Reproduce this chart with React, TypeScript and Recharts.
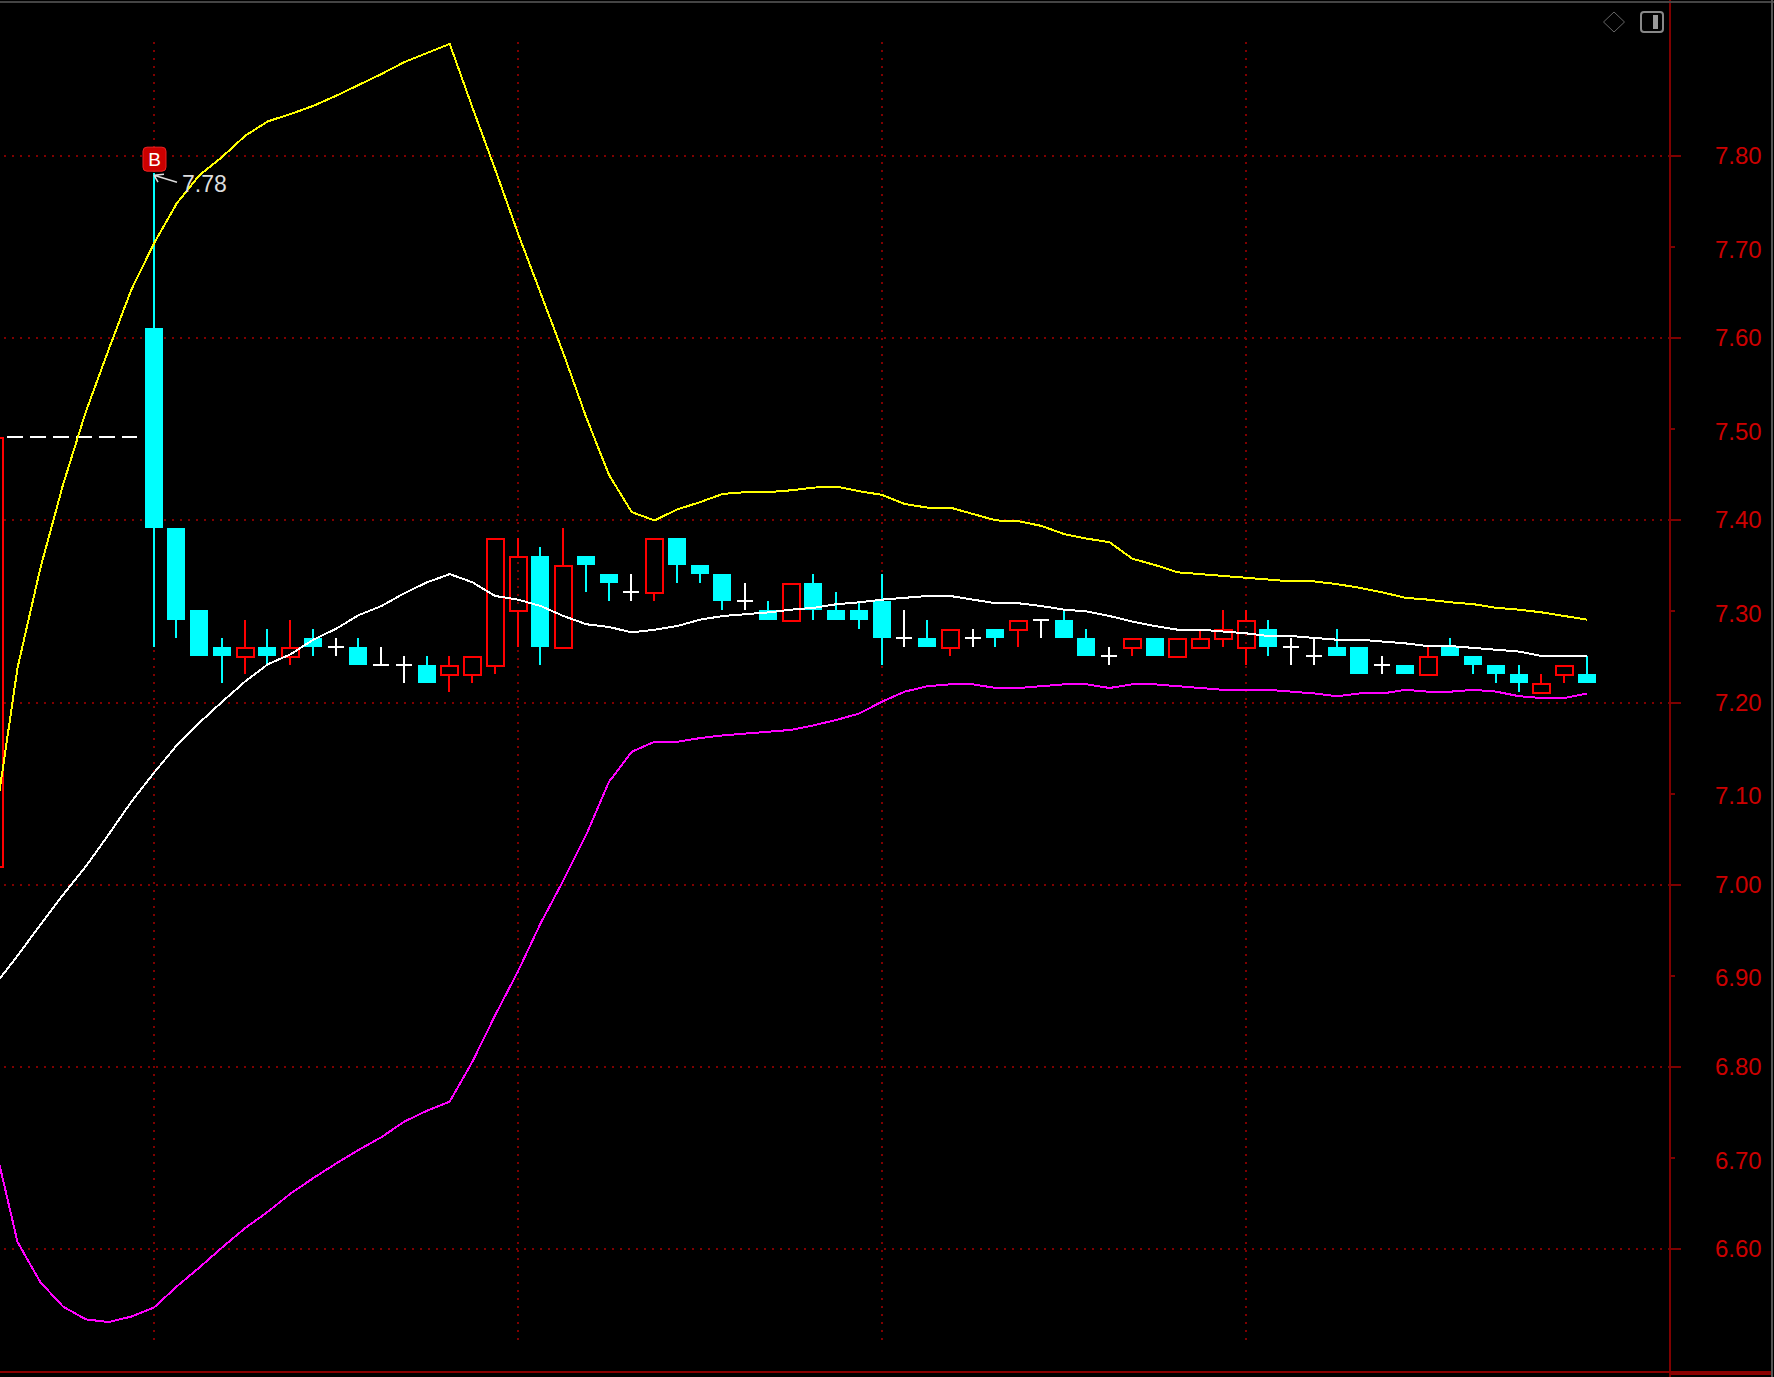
import React from "react";
import { Bar, ComposedChart, Line, ReferenceDot, ReferenceLine, XAxis, YAxis } from "recharts";

// candle index, 0 is the big bar under the B marker
const indexes = [-7, -6, -5, -4, -3, -2, -1, 0, 1, 2, 3, 4, 5, 6, 7, 8, 9, 10, 11, 12, 13, 14, 15, 16, 17, 18, 19, 20, 21, 22, 23, 24, 25, 26, 27, 28, 29, 30, 31, 32, 33, 34, 35, 36, 37, 38, 39, 40, 41, 42, 43, 44, 45, 46, 47, 48, 49, 50, 51, 52, 53, 54, 55, 56, 57, 58, 59, 60, 61, 62, 63];

// [index, open, high, low, close]
const candles = [
  [-7, 7.02, 7.49, 7.02, 7.49],
  [0, 7.61, 7.78, 7.26, 7.39],
  [1, 7.39, 7.39, 7.27, 7.29],
  [2, 7.3, 7.3, 7.25, 7.25],
  [3, 7.26, 7.27, 7.22, 7.25],
  [4, 7.25, 7.29, 7.23, 7.26],
  [5, 7.26, 7.28, 7.24, 7.25],
  [6, 7.25, 7.29, 7.24, 7.26],
  [7, 7.27, 7.28, 7.25, 7.26],
  [8, 7.26, 7.27, 7.25, 7.26],
  [9, 7.26, 7.27, 7.24, 7.24],
  [10, 7.24, 7.26, 7.24, 7.24],
  [11, 7.24, 7.25, 7.22, 7.24],
  [12, 7.24, 7.25, 7.22, 7.22],
  [13, 7.23, 7.25, 7.21, 7.24],
  [14, 7.23, 7.25, 7.22, 7.25],
  [15, 7.24, 7.38, 7.23, 7.38],
  [16, 7.3, 7.38, 7.26, 7.36],
  [17, 7.36, 7.37, 7.24, 7.26],
  [18, 7.26, 7.39, 7.26, 7.35],
  [19, 7.36, 7.36, 7.32, 7.35],
  [20, 7.34, 7.34, 7.31, 7.33],
  [21, 7.32, 7.34, 7.31, 7.32],
  [22, 7.32, 7.38, 7.31, 7.38],
  [23, 7.38, 7.38, 7.33, 7.35],
  [24, 7.35, 7.35, 7.33, 7.34],
  [25, 7.34, 7.34, 7.3, 7.31],
  [26, 7.31, 7.33, 7.3, 7.31],
  [27, 7.3, 7.31, 7.29, 7.29],
  [28, 7.29, 7.33, 7.29, 7.33],
  [29, 7.33, 7.34, 7.29, 7.3],
  [30, 7.3, 7.32, 7.29, 7.29],
  [31, 7.3, 7.31, 7.28, 7.29],
  [32, 7.31, 7.34, 7.24, 7.27],
  [33, 7.27, 7.3, 7.26, 7.27],
  [34, 7.27, 7.29, 7.26, 7.26],
  [35, 7.26, 7.28, 7.25, 7.28],
  [36, 7.27, 7.28, 7.26, 7.27],
  [37, 7.28, 7.28, 7.26, 7.27],
  [38, 7.28, 7.29, 7.26, 7.29],
  [39, 7.29, 7.29, 7.27, 7.29],
  [40, 7.29, 7.3, 7.27, 7.27],
  [41, 7.27, 7.28, 7.25, 7.25],
  [42, 7.25, 7.26, 7.24, 7.25],
  [43, 7.26, 7.27, 7.25, 7.27],
  [44, 7.27, 7.27, 7.25, 7.25],
  [45, 7.25, 7.27, 7.25, 7.27],
  [46, 7.26, 7.28, 7.26, 7.27],
  [47, 7.27, 7.3, 7.26, 7.28],
  [48, 7.26, 7.3, 7.24, 7.29],
  [49, 7.28, 7.29, 7.25, 7.26],
  [50, 7.26, 7.27, 7.24, 7.26],
  [51, 7.25, 7.27, 7.24, 7.25],
  [52, 7.26, 7.28, 7.25, 7.25],
  [53, 7.26, 7.26, 7.23, 7.23],
  [54, 7.24, 7.25, 7.23, 7.24],
  [55, 7.24, 7.24, 7.23, 7.23],
  [56, 7.23, 7.26, 7.23, 7.25],
  [57, 7.26, 7.27, 7.25, 7.25],
  [58, 7.25, 7.25, 7.23, 7.24],
  [59, 7.24, 7.24, 7.22, 7.23],
  [60, 7.23, 7.24, 7.21, 7.22],
  [61, 7.21, 7.23, 7.21, 7.22],
  [62, 7.23, 7.24, 7.22, 7.24],
  [63, 7.23, 7.25, 7.22, 7.22],
];

const upperBand = [7.067, 7.238, 7.347, 7.439, 7.519, 7.587, 7.653, 7.704, 7.748, 7.779, 7.799, 7.822, 7.838, 7.846, 7.855, 7.866, 7.878, 7.89, 7.903, 7.913, 7.923, 7.853, 7.785, 7.715, 7.649, 7.583, 7.513, 7.45, 7.409, 7.4, 7.412, 7.42, 7.429, 7.431, 7.431, 7.433, 7.436, 7.437, 7.432, 7.428, 7.418, 7.414, 7.414, 7.407, 7.4, 7.399, 7.394, 7.385, 7.38, 7.376, 7.358, 7.351, 7.343, 7.341, 7.339, 7.337, 7.335, 7.333, 7.333, 7.33, 7.326, 7.321, 7.315, 7.313, 7.31, 7.308, 7.304, 7.302, 7.299, 7.295, 7.291];
const middleBand = [6.89, 6.922, 6.956, 6.989, 7.02, 7.055, 7.091, 7.123, 7.153, 7.178, 7.201, 7.223, 7.242, 7.253, 7.269, 7.281, 7.296, 7.306, 7.32, 7.332, 7.341, 7.332, 7.317, 7.313, 7.306, 7.295, 7.286, 7.283, 7.277, 7.28, 7.284, 7.291, 7.295, 7.297, 7.299, 7.302, 7.304, 7.308, 7.31, 7.313, 7.315, 7.317, 7.317, 7.313, 7.309, 7.309, 7.306, 7.302, 7.3, 7.295, 7.289, 7.284, 7.28, 7.28, 7.278, 7.276, 7.273, 7.273, 7.271, 7.269, 7.269, 7.267, 7.265, 7.262, 7.262, 7.26, 7.258, 7.256, 7.251, 7.251, 7.251];
const lowerBand = [6.715, 6.608, 6.564, 6.537, 6.523, 6.52, 6.526, 6.536, 6.559, 6.58, 6.602, 6.623, 6.641, 6.661, 6.678, 6.694, 6.709, 6.723, 6.74, 6.752, 6.762, 6.806, 6.857, 6.905, 6.958, 7.005, 7.055, 7.113, 7.146, 7.157, 7.157, 7.161, 7.164, 7.166, 7.168, 7.17, 7.175, 7.181, 7.188, 7.201, 7.212, 7.218, 7.22, 7.22, 7.216, 7.216, 7.218, 7.22, 7.22, 7.216, 7.22, 7.22, 7.218, 7.216, 7.214, 7.214, 7.214, 7.212, 7.21, 7.207, 7.21, 7.21, 7.214, 7.212, 7.212, 7.214, 7.212, 7.207, 7.205, 7.205, 7.21];

const priceTicks = [7.8, 7.7, 7.6, 7.5, 7.4, 7.3, 7.2, 7.1, 7, 6.9, 6.8, 6.7, 6.6];
const gridPrices = [7.8, 7.6, 7.4, 7.2, 7, 6.8, 6.6];
const gridIndexes = [0, 16, 32, 48];

const rows = indexes.map((index, i) => {
  const candle = candles.find((c) => c[0] === index);
  return {
    index,
    upper: upperBand[i],
    middle: middleBand[i],
    lower: lowerBand[i],
    open: candle?.[1],
    high: candle?.[2],
    low: candle?.[3],
    close: candle?.[4],
    range: candle ? [candle[3], candle[2]] : null,
  };
});

const UP = "#ff0000";
const DOWN = "#00ffff";
const GRID = "#7f0000";
const crisp = "crispEdges" as const;

function CandleShape(props: any) {
  const { x, y, width, height, payload } = props;
  if (!payload || payload.high == null) return null;
  const { open, high, low, close } = payload;
  const yOf = (price: number) => Math.floor(y + ((high - price) / (high - low)) * height - 0.5);
  const cx = Math.round(x + width / 2);
  const top = yOf(Math.max(open, close));
  const bottom = yOf(Math.min(open, close));
  const wick = (from: number, to: number, color: string) => (
    <line x1={cx} x2={cx} y1={from} y2={to} stroke={color} strokeWidth={2} shapeRendering={crisp} />
  );

  if (open === close) {
    return (
      <g>
        {wick(yOf(high), yOf(low), "#fff")}
        <line x1={cx - 8} x2={cx + 8} y1={top} y2={top} stroke="#fff" strokeWidth={2} shapeRendering={crisp} />
      </g>
    );
  }
  const color = close > open ? UP : DOWN;
  return (
    <g>
      {wick(yOf(high), top, color)}
      {wick(bottom, yOf(low), color)}
      {close > open ? (
        <rect x={cx - 8} y={top + 1} width={17} height={bottom - top} fill="none" stroke={UP} strokeWidth={2} shapeRendering={crisp} />
      ) : (
        <rect x={cx - 9} y={top} width={18} height={bottom - top} fill={DOWN} shapeRendering={crisp} />
      )}
    </g>
  );
}

function PriceTick({ x, y, payload }: any) {
  const even = gridPrices.includes(payload.value);
  return (
    <g>
      <line x1={x} x2={x + (even ? 11 : 5)} y1={y} y2={y} stroke={GRID} strokeWidth={2} shapeRendering={crisp} />
      <text x={x + 45} y={y + (even ? 8 : 10.5)} fill="#cc0000" fontFamily="Liberation Sans" fontSize={24}>
        {payload.value.toFixed(2)}
      </text>
    </g>
  );
}

function BuyMarker({ cx, cy }: any) {
  return (
    <g>
      <rect x={cx - 11} y={cy - 27} width={23} height={24} rx={4} fill="#cc0000" stroke="#ee2222" />
      <text x={cx + 0.5} y={cy - 8} textAnchor="middle" fill="#fff" fontFamily="Liberation Sans" fontSize={19}>
        B
      </text>
      <path d={`M${cx + 23} ${cy + 8} L${cx} ${cy + 1} M${cx} ${cy + 1} L${cx + 10} ${cy} M${cx} ${cy + 1} L${cx + 4} ${cy + 8}`} fill="none" stroke="#ddd" strokeWidth={1.5} />
      <text x={cx + 28} y={cy + 18} fill="#ddd" fontFamily="Liberation Sans" fontSize={23}>
        7.78
      </text>
    </g>
  );
}

export default function App() {
  return (
    <div style={{ position: "absolute", left: 0, top: 0, width: 1774, height: 1377, background: "#000", overflow: "hidden" }}>
      <ComposedChart width={1774} height={1377} data={rows} margin={{ top: 0, right: 0, bottom: 0, left: 0 }}>
        <XAxis type="number" dataKey="index" domain={[-6.769, 66.637]} allowDataOverflow hide />
        <YAxis
          orientation="right"
          width={104}
          domain={[6.4597, 7.9712]}
          allowDataOverflow
          ticks={priceTicks}
          interval={0}
          axisLine={{ stroke: GRID, strokeWidth: 2 }}
          tickLine={false}
          tickSize={0}
          tickMargin={0}
          tick={<PriceTick />}
        />
        {gridPrices.map((price) => (
          <ReferenceLine key={price} y={price} zIndex={-50} stroke={GRID} strokeWidth={2} strokeDasharray="2 6" shapeRendering={crisp} />
        ))}
        {gridIndexes.map((index) => (
          <ReferenceLine
            key={index}
            segment={[
              { x: index, y: 7.925 },
              { x: index, y: 6.5 },
            ]}
            zIndex={-50}
            stroke={GRID}
            strokeWidth={2}
            strokeDasharray="2 6"
            shapeRendering={crisp}
          />
        ))}
        <ReferenceLine
          segment={[
            { x: -6.46, y: 7.491 },
            { x: -0.75, y: 7.491 },
          ]}
          zIndex={-40}
          stroke="#fff"
          strokeWidth={2}
          strokeDasharray="16 7"
          shapeRendering={crisp}
        />
        <Bar dataKey="range" barSize={18} shape={<CandleShape />} isAnimationActive={false} />
        <Line dataKey="upper" stroke="#ffff00" strokeWidth={2} dot={false} type="linear" shapeRendering={crisp} isAnimationActive={false} />
        <Line dataKey="middle" stroke="#ffffff" strokeWidth={2} dot={false} type="linear" shapeRendering={crisp} isAnimationActive={false} />
        <Line dataKey="lower" stroke="#ff00ff" strokeWidth={2} dot={false} type="linear" shapeRendering={crisp} isAnimationActive={false} />
        <ReferenceDot x={0} y={7.78} shape={<BuyMarker />} />
      </ComposedChart>
      <svg width={1774} height={1377} style={{ position: "absolute", left: 0, top: 0, pointerEvents: "none" }}>
        <rect x={0} y={1} width={1774} height={2} fill="#444" />
        <rect x={1771} y={0} width={2} height={1377} fill="#555" />
        <rect x={0} y={1371} width={1670} height={2} fill="#8b0000" />
        <rect x={1670} y={1371} width={101} height={4} fill="#8b0000" />
        <path d="M1614 12 L1624.5 22 L1614 32 L1603.5 22 Z" fill="none" stroke="#666" strokeWidth={1} />
        <rect x={1641} y={12} width={22} height={20} rx={3} fill="none" stroke="#888" strokeWidth={2} />
        <rect x={1653} y={15} width={5} height={14} fill="#999" />
      </svg>
    </div>
  );
}
